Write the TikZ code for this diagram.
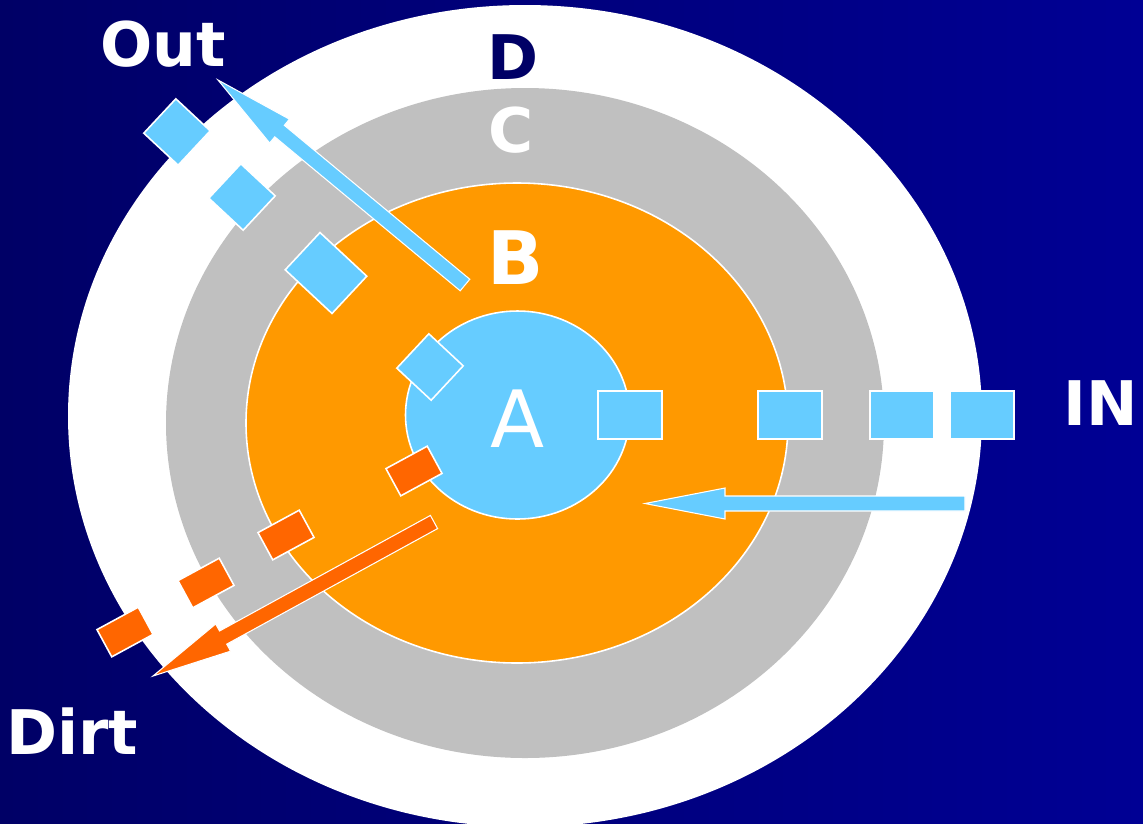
\documentclass[tikz,border=0pt]{standalone}
\usepackage{fontspec}
\setmainfont{DejaVu Sans}
\usetikzlibrary{calc}

\definecolor{navyL}{RGB}{0,0,102}
\definecolor{navyR}{RGB}{0,0,148}
\definecolor{skyblue}{RGB}{102,204,255}
\definecolor{amber}{RGB}{255,153,0}
\definecolor{rust}{RGB}{255,102,0}
\definecolor{ringgray}{RGB}{192,192,192}

% block arrow: #1 fill, #2 tail, #3 tip, #4 name
\newcommand{\blockarrow}[4]{%
  \coordinate (#4-head) at ($(#3)!1.6cm!(#2)$);
  \filldraw[flowarrow, fill=#1]
    ($(#2)!0.15cm!90:(#3)$) -- ($(#4-head)!0.15cm!90:(#3)$)
    -- ($(#4-head)!0.31cm!90:(#3)$) -- (#3)
    -- ($(#4-head)!0.31cm!-90:(#3)$) -- ($(#4-head)!0.15cm!-90:(#3)$)
    -- ($(#2)!0.15cm!-90:(#3)$) -- cycle;
}

\begin{document}
\begin{tikzpicture}[
  x=0.02cm, y=-0.02cm,
  rim/.style={draw=white, line width=0.9pt},
  packet/.style={rectangle, fill=skyblue, draw=white, line width=0.9pt,
    minimum width=1.28cm, minimum height=0.96cm, inner sep=0pt},
  tilted/.style={packet, minimum width=0.94cm, minimum height=0.94cm, rotate=47},
  dirtbit/.style={rectangle, fill=rust, draw=white, line width=0.9pt,
    minimum width=0.94cm, minimum height=0.62cm, inner sep=0pt, rotate=28.5},
  big/.style={font=\fontsize{35}{35}\selectfont\bfseries, text=white, inner sep=0pt},
  flowarrow/.style={draw=white, line width=0.6pt}
]
\useasboundingbox (0,0) rectangle (1143,823);
\shade[left color=navyL, right color=navyR] (0,0) rectangle (1143,823);

% ----------------------------- rings -----------------------------
\fill[white] (525,416) ellipse[x radius=457, y radius=411];
\fill[ringgray] (525,423) ellipse[x radius=359, y radius=335];
\filldraw[amber, rim] (517,423) ellipse[x radius=271, y radius=240];
\filldraw[skyblue, rim] (517.5,415) ellipse[x radius=112, y radius=104];

\node[big, text=navyL] (lblD) at (513,57) {D};
\node[big] (lblC) at (511,130) {C};
\node[big, font=\fontsize{42}{42}\selectfont\bfseries] (lblB) at (516,258) {B};
\node[big, font=\fontsize{45}{45}\selectfont] (lblA) at (518,419) {A};

% incoming packets
\foreach \x [count=\i] in {630,790,902,982}
  \node[packet] (in\i) at (\x,415) {};

% outgoing packets
\node[tilted] (out1) at (177,132) {};
\node[tilted] (out2) at (242,197) {};
\node[tilted, minimum width=1.02cm, minimum height=1.28cm] (out3) at (326,273) {};
\node[tilted] (out4) at (430,367) {};

% dirt
\foreach \x/\y [count=\i] in {414/471, 286/535, 206/583, 125/632}
  \node[dirtbit] (dirt\i) at (\x,\y) {};

% ----------------------------- flows -----------------------------
\coordinate (inTail) at (965,503.5);
\coordinate (inTip) at (645,503.5);
\coordinate (outTail) at (465,285);
\coordinate (outTip) at (218,80);
\coordinate (dirtTail) at (434,522);
\coordinate (dirtTip) at (153,676);

\blockarrow{skyblue}{inTail}{inTip}{inArrow}
\blockarrow{skyblue}{outTail}{outTip}{outArrow}
\blockarrow{rust}{dirtTail}{dirtTip}{dirtArrow}

\node[big] (lblIn) at (1101,403) {IN};
\node[big] (lblOut) at (163,44) {Out};
\node[big] (lblDirt) at (72,731) {Dirt};

\end{tikzpicture}
\end{document}
